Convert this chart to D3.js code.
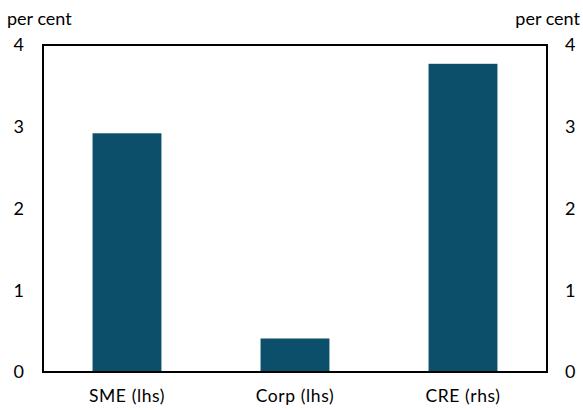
<!DOCTYPE html>
<html><head><meta charset="utf-8">
<script src="https://cdn.jsdelivr.net/npm/d3@7"></script>
<style>body{margin:0;background:#fff}svg{display:block}text{font-family:Lato,sans-serif;fill:#000}</style>
</head><body><svg id="c" width="583" height="410"></svg>
<script>
const categories = ["SME (lhs)", "Corp (lhs)", "CRE (rhs)"];
const values = [2.92, 0.41, 3.77];
const tickValues = [0, 1, 2, 3, 4];
const unitLabel = "per cent";

const svg = d3.select("#c");
const L = 43, R = 547, T = 45, B = 372;
const x = d3.scaleBand().domain(categories).range([L, R]).paddingInner(0.59).paddingOuter(0.295);
const y = d3.scaleLinear().domain([0, 4]).range([B, T]);

svg.selectAll("rect.bar").data(values).join("rect")
  .attr("class", "bar")
  .attr("x", (d, i) => x(categories[i]))
  .attr("width", x.bandwidth())
  .attr("y", d => y(d))
  .attr("height", d => y(0) - y(d))
  .attr("fill", "#0c4f6b");

svg.append("rect").attr("x", L).attr("y", T).attr("width", R - L).attr("height", B - T)
  .attr("fill", "none").attr("stroke", "#000").attr("stroke-width", 2);

const left = d3.axisLeft(y).tickValues(tickValues).tickSize(0).tickPadding(19).tickFormat(d3.format("d"));
const right = d3.axisRight(y).tickValues(tickValues).tickSize(0).tickPadding(18).tickFormat(d3.format("d"));
const gl = svg.append("g").attr("transform", `translate(${L},0)`).call(left);
const gr = svg.append("g").attr("transform", `translate(${R},0)`).call(right);
[gl, gr].forEach(g => { g.select(".domain").remove(); g.selectAll("text").attr("font-size", 18).attr("font-family", "Lato, sans-serif"); });

const bottom = d3.axisBottom(x).tickSize(0).tickPadding(18);
const gb = svg.append("g").attr("transform", `translate(0,${B})`).call(bottom);
gb.select(".domain").remove();
gb.selectAll("text").attr("font-size", 17.5).attr("letter-spacing", "0.6px").attr("font-family", "Lato, sans-serif");

svg.append("text").attr("x", 7).attr("y", 25).attr("font-size", 18).text(unitLabel);
svg.append("text").attr("x", 580).attr("y", 25).attr("font-size", 18).attr("text-anchor", "end").text(unitLabel);
</script></body></html>
